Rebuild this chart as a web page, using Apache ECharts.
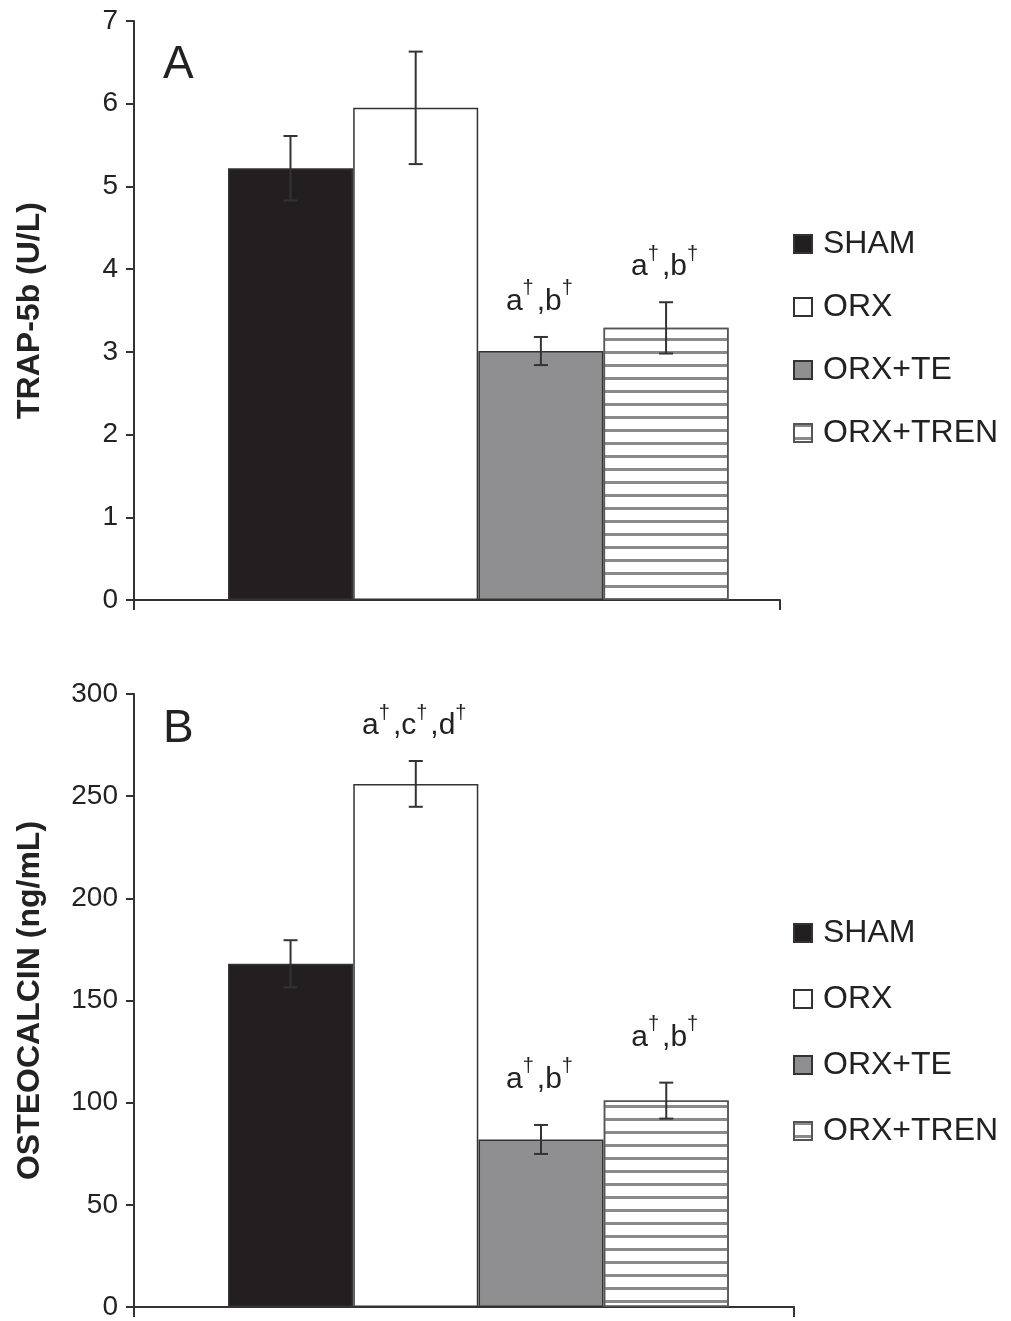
<!DOCTYPE html>
<html>
<head>
<meta charset="utf-8">
<script src="https://cdn.jsdelivr.net/npm/echarts@6/dist/echarts.min.js"></script>
<style>html,body{margin:0;padding:0;background:#fff}#c{width:1011px;height:1321px}</style>
</head>
<body>
<div id="c"></div>
<script>
// ---- data ----
const groups = ['SHAM', 'ORX', 'ORX+TE', 'ORX+TREN'];
const trapMean = [5.22, 5.95, 3.01, 3.29];
const trapSE = [0.39, 0.68, 0.17, 0.31];
const trapNotes = ['', '', 'a†,b†', 'a†,b†'];
const ocMean = [168, 256, 82, 101];
const ocSE = [11.5, 11.2, 7.1, 8.8];
const ocNotes = ['', 'a†,c†,d†', 'a†,b†', 'a†,b†'];
const trapAxis = { min: 0, max: 7, interval: 1, name: 'TRAP-5b (U/L)' };
const ocAxis = { min: 0, max: 300, interval: 50, name: 'OSTEOCALCIN (ng/mL)' };

// ---- styles ----
const FONT = 'Liberation Sans';
const trapNoteGap = [20, 20, 20, 20];
const ocNoteGap = [20, 20, 30, 30];
const stripe = { symbol: 'rect', symbolSize: 1, dashArrayX: [20, 0], dashArrayY: [3, 9.5], rotation: 0, color: '#8a8a8a' };
const styles = [
  { color: '#231f20', borderColor: '#333', borderWidth: 1.5 },
  { color: '#ffffff', borderColor: '#333', borderWidth: 1.5 },
  { color: '#8f8f92', borderColor: '#333', borderWidth: 1.5 },
  { color: '#ffffff', borderColor: '#555', borderWidth: 1.5, decal: stripe }
];

function barData(means) {
  return means.map((v, i) => ({ value: [i + 0.5, v], itemStyle: styles[i] }));
}
function errData(means, se) {
  return means.map((v, i) => [i + 0.5, v, se[i]]);
}
function errSeries(idx, means, se, notes, gaps) {
  return {
    type: 'custom', xAxisIndex: idx, yAxisIndex: idx, z: 10, silent: true,
    data: errData(means, se),
    renderItem: function (params, api) {
      const x = api.value(0), m = api.value(1), s = api.value(2);
      const t = api.coord([x, m + s]);
      const b = api.coord([x, m - s]);
      const cw = 7;
      const ls = { stroke: '#333', lineWidth: 2 };
      const children = [
        { type: 'line', shape: { x1: t[0], y1: t[1], x2: b[0], y2: b[1] }, style: ls },
        { type: 'line', shape: { x1: t[0] - cw, y1: t[1], x2: t[0] + cw, y2: t[1] }, style: ls },
        { type: 'line', shape: { x1: b[0] - cw, y1: b[1], x2: b[0] + cw, y2: b[1] }, style: ls }
      ];
      const note = notes[params.dataIndex];
      if (note) {
        const rt = note.split('†').map((p, k, arr) => '{n|' + p + '}' + (k < arr.length - 1 ? '{s|†}' : '')).join('');
        children.push({
          type: 'text',
          style: {
            text: rt, x: t[0], y: t[1] - gaps[params.dataIndex], align: 'center', verticalAlign: 'bottom',
            rich: {
              n: { fontSize: 30, fontFamily: FONT, fill: '#222', lineHeight: 40, verticalAlign: 'bottom' },
              s: { fontSize: 20, fontFamily: FONT, fill: '#222', lineHeight: 20, verticalAlign: 'top', padding: [2, 3, 0, 0] }
            }
          }
        });
      }
      return { type: 'group', children: children };
    }
  };
}

function xAx(idx, max) {
  return {
    type: 'value', gridIndex: idx, min: -0.75, max: max, interval: max + 0.75,
    axisLabel: { show: false }, splitLine: { show: false },
    axisLine: { show: true, onZero: false, lineStyle: { color: '#333', width: 2 } },
    axisTick: { show: true, length: 10, lineStyle: { color: '#333', width: 2 } }
  };
}
function yAx(idx, a) {
  return {
    type: 'value', gridIndex: idx, min: a.min, max: a.max, interval: a.interval,
    name: a.name, nameLocation: 'middle', nameGap: 88, nameRotate: 90,
    nameTextStyle: { fontFamily: FONT, fontWeight: 'bold', fontSize: 32, color: '#222' },
    splitLine: { show: false },
    axisLine: { show: true, onZero: false, lineStyle: { color: '#333', width: 2 } },
    axisTick: { show: true, length: 8, lineStyle: { color: '#333', width: 2 } },
    axisLabel: { fontFamily: FONT, fontSize: 28, color: '#222', margin: 16 }
  };
}

const legendSeries = groups.map((g, i) => ({
  type: 'bar', name: g, xAxisIndex: 0, yAxisIndex: 0, stack: 'top', data: [], itemStyle: styles[i]
}));

function legend(top, gap) {
  return {
    orient: 'vertical', left: 788, top: top, itemGap: gap, itemWidth: 18, itemHeight: 18,
    icon: 'rect', selectedMode: false, data: groups,
    textStyle: { fontFamily: FONT, fontSize: 32, color: '#222', lineHeight: 31, padding: [0, 0, 0, 6] }
  };
}

const chart = echarts.init(document.getElementById('c'), null, { renderer: 'canvas' });
chart.setOption({
  animation: false,
  backgroundColor: '#fff',
  grid: [
    { left: 134, top: 21, width: 646, height: 579 },
    { left: 134, top: 694, width: 660, height: 615 }
  ],
  xAxis: [xAx(0, 4.41), xAx(1, 4.52)],
  yAxis: [yAx(0, trapAxis), yAx(1, ocAxis)],
  legend: [legend(223, 31), legend(912, 34)],
  graphic: [
    { type: 'text', left: 163, top: 42, style: { text: 'A', fontFamily: FONT, fontSize: 46, fill: '#222' } },
    { type: 'text', left: 163, top: 706, style: { text: 'B', fontFamily: FONT, fontSize: 46, fill: '#222' } }
  ],
  series: [
    { type: 'bar', name: 'trap', xAxisIndex: 0, yAxisIndex: 0, stack: 'top', barWidth: 125, data: barData(trapMean) },
    { type: 'bar', name: 'oc', xAxisIndex: 1, yAxisIndex: 1, barWidth: 125, data: barData(ocMean) },
    errSeries(0, trapMean, trapSE, trapNotes, trapNoteGap),
    errSeries(1, ocMean, ocSE, ocNotes, ocNoteGap)
  ].concat(legendSeries)
});
</script>
</body>
</html>
